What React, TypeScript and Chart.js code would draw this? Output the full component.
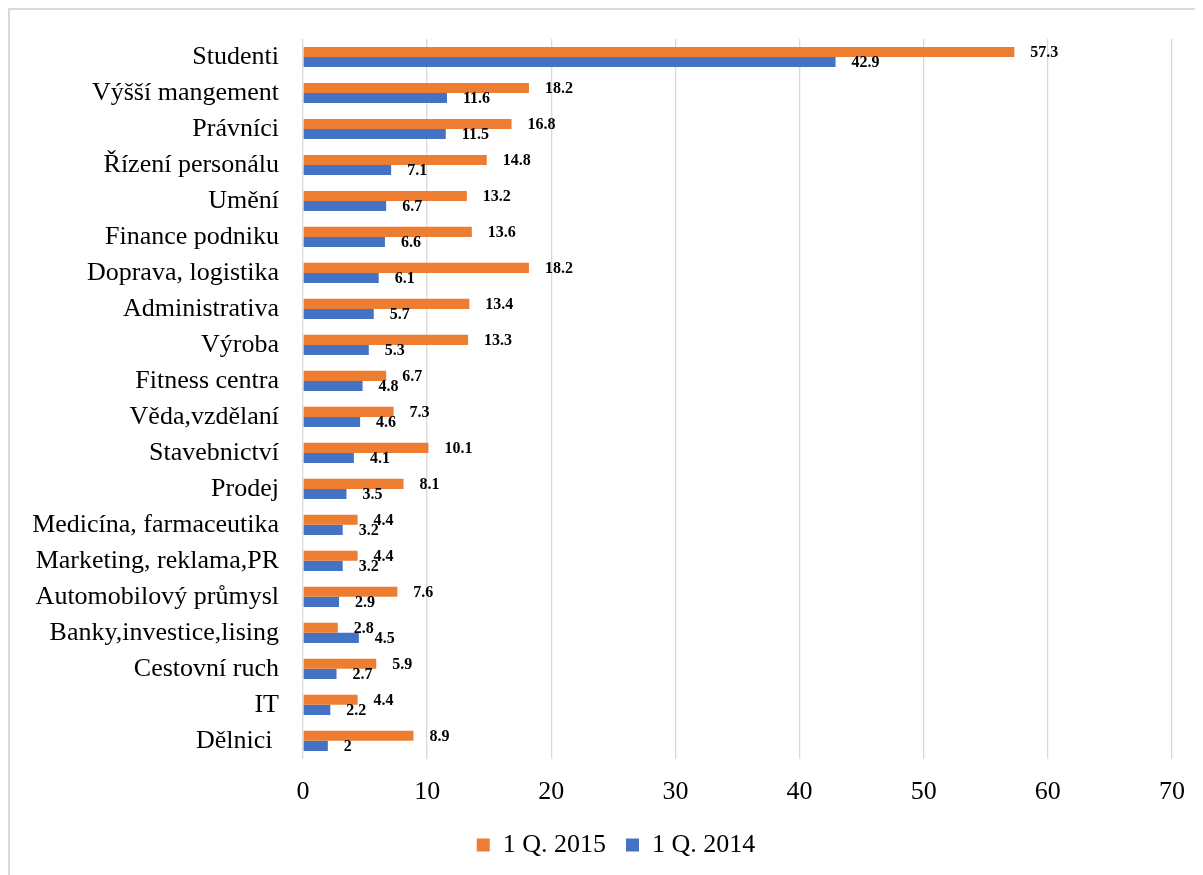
import React, { useEffect, useRef } from "react";
import { Chart, registerables } from "chart.js";

Chart.register(...registerables);

const categories = [
  "Studenti",
  "Výšší mangement",
  "Právníci",
  "Řízení personálu",
  "Umění",
  "Finance podniku",
  "Doprava, logistika",
  "Administrativa",
  "Výroba",
  "Fitness centra",
  "Věda,vzdělaní",
  "Stavebnictví",
  "Prodej",
  "Medicína, farmaceutika",
  "Marketing, reklama,PR",
  "Automobilový průmysl",
  "Banky,investice,lising",
  "Cestovní ruch",
  "IT",
  "Dělnici ",
];

const values2015 = [57.3, 18.2, 16.8, 14.8, 13.2, 13.6, 18.2, 13.4, 13.3, 6.7, 7.3, 10.1, 8.1, 4.4, 4.4, 7.6, 2.8, 5.9, 4.4, 8.9];
const values2014 = [42.9, 11.6, 11.5, 7.1, 6.7, 6.6, 6.1, 5.7, 5.3, 4.8, 4.6, 4.1, 3.5, 3.2, 3.2, 2.9, 4.5, 2.7, 2.2, 2];

const seriesNames = ["1 Q. 2015", "1 Q. 2014"];
const xTicks = [0, 10, 20, 30, 40, 50, 60, 70];

const FONT = "'Liberation Serif', 'Times New Roman', serif";

const valueLabels = {
  id: "valueLabels",
  afterDatasetsDraw(chart: any) {
    const ctx = chart.ctx;
    ctx.save();
    ctx.font = `bold 16px ${FONT}`;
    ctx.fillStyle = "#000";
    ctx.textAlign = "left";
    ctx.textBaseline = "middle";
    chart.data.datasets.forEach((ds: any, di: number) => {
      const meta = chart.getDatasetMeta(di);
      meta.data.forEach((bar: any, i: number) => {
        ctx.fillText(String(ds.data[i]), bar.x + 16, bar.y + 1);
      });
    });
    ctx.restore();
  },
};

const legendShift = {
  id: "legendShift",
  afterLayout(chart: any) {
    if (chart.legend) {
      chart.legend.left += 25;
      chart.legend.right += 25;
    }
  },
};

export default function App() {
  const ref = useRef<HTMLCanvasElement>(null);
  useEffect(() => {
    if (!ref.current) return;
    const chart = new Chart(ref.current, {
      type: "bar",
      data: {
        labels: categories,
        datasets: [
          {
            label: seriesNames[0],
            data: values2015,
            backgroundColor: "#ED7D31",
            categoryPercentage: 0.56,
            barPercentage: 1,
          },
          {
            label: seriesNames[1],
            data: values2014,
            backgroundColor: "#4472C4",
            categoryPercentage: 0.56,
            barPercentage: 1,
          },
        ],
      },
      options: {
        indexAxis: "y",
        animation: false,
        responsive: false,
        layout: { padding: { top: 29, right: 31, bottom: 7, left: 0 } },
        scales: {
          x: {
            min: 0,
            max: 70,
            afterBuildTicks: (scale: any) => {
              scale.ticks = xTicks.map((v) => ({ value: v }));
            },
            afterFit: (scale: any) => {
              scale.paddingLeft = 0;
              scale.paddingRight = 0;
              scale.height = scale.height - 14;
            },
            grid: { color: "#d9d9d9", lineWidth: 1.3, drawTicks: false },
            border: { display: false },
            ticks: {
              padding: 18,
              color: "#000",
              font: { family: FONT, size: 26 },
            },
          },
          y: {
            grid: { display: false, drawTicks: false },
            border: { display: false },
            afterFit: (scale: any) => {
              scale.width = 293;
              scale.paddingTop = 0;
              scale.paddingBottom = 0;
            },
            ticks: {
              padding: 24,
              color: "#000",
              autoSkip: false,
              font: { family: FONT, size: 26 },
            },
          },
        },
        plugins: {
          legend: {
            position: "bottom",
            labels: {
              boxWidth: 13,
              boxHeight: 13,
              padding: 20,
              color: "#000",
              font: { family: FONT, size: 26 },
            },
          },
          tooltip: { enabled: false },
        },
      },
      plugins: [valueLabels, legendShift],
    });
    return () => chart.destroy();
  }, []);
  return (
    <div
      style={{
        width: 1195,
        height: 867,
        borderLeft: "2px solid #d9d9d9",
        borderTop: "2px solid #d9d9d9",
        boxSizing: "border-box",
        background: "#fff",
      }}
    >
      <canvas ref={ref} width={1193} height={865} style={{ display: "block" }} />
    </div>
  );
}
